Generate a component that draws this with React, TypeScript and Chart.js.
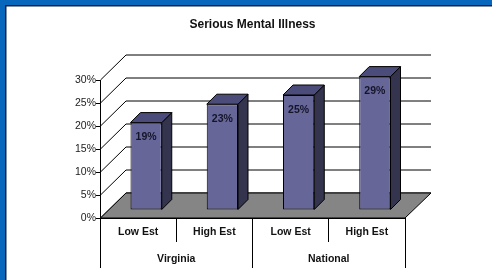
import React, { useEffect, useRef } from "react";
import { Chart, registerables } from "chart.js";

Chart.register(...registerables);

const title = "Serious Mental Illness";
const estimateLabels = ["Low Est", "High Est", "Low Est", "High Est"];
const regionLabels = ["Virginia", "National"];
const values = [19, 23, 25, 29];
const yMax = 30;
const yStep = 5;

const FLOOR_DX = 26;
const FLOOR_DY = 25;
const BAR_SHIFT_X = 8;
const BAR_SHIFT_Y = 8;
const BAR_DEPTH = 10;

const threeD = {
  id: "threeD",
  beforeDraw(chart: any) {
    const { ctx, width, height } = chart;
    ctx.save();
    ctx.fillStyle = "#ffffff";
    ctx.fillRect(0, 0, width, height);
    ctx.fillStyle = "#0767bd";
    ctx.fillRect(0, 0, width, 5);
    ctx.fillRect(0, 0, 5, height);
    ctx.fillStyle = "#0d2440";
    ctx.fillRect(5, 5, width - 5, 1.5);
    ctx.fillRect(5, 5, 1.5, height - 5);
    ctx.restore();
  },
  beforeDatasetsDraw(chart: any) {
    const { ctx, chartArea, scales } = chart;
    const y = scales.y;
    const left = chartArea.left;
    const right = chartArea.right;
    ctx.save();
    ctx.strokeStyle = "#000000";
    ctx.lineWidth = 1;
    for (let v = 0; v <= yMax; v += yStep) {
      const py = y.getPixelForValue(v);
      ctx.beginPath();
      ctx.moveTo(left + 0.5, py);
      ctx.lineTo(left + FLOOR_DX, py - FLOOR_DY);
      ctx.lineTo(right + FLOOR_DX, py - FLOOR_DY);
      ctx.stroke();
    }
    const base = y.getPixelForValue(0);
    ctx.beginPath();
    ctx.moveTo(left + 0.5, base);
    ctx.lineTo(right, base);
    ctx.lineTo(right + FLOOR_DX, base - FLOOR_DY);
    ctx.lineTo(left + FLOOR_DX, base - FLOOR_DY);
    ctx.closePath();
    ctx.fillStyle = "#858585";
    ctx.fill();
    ctx.stroke();
    ctx.restore();
    ctx.save();
    ctx.translate(BAR_SHIFT_X, -BAR_SHIFT_Y);
  },
  afterDatasetsDraw(chart: any) {
    const { ctx } = chart;
    const meta = chart.getDatasetMeta(0);
    ctx.lineWidth = 1;
    ctx.strokeStyle = "#000000";
    meta.data.forEach((bar: any, i: number) => {
      const half = bar.width / 2;
      const l = bar.x - half;
      const r = bar.x + half;
      const t = bar.y;
      const b = bar.base;
      // side face
      ctx.beginPath();
      ctx.moveTo(r, t);
      ctx.lineTo(r + BAR_DEPTH, t - BAR_DEPTH);
      ctx.lineTo(r + BAR_DEPTH, b - BAR_DEPTH);
      ctx.lineTo(r, b);
      ctx.closePath();
      ctx.fillStyle = "#34344f";
      ctx.fill();
      ctx.stroke();
      // top face
      ctx.beginPath();
      ctx.moveTo(l, t);
      ctx.lineTo(r, t);
      ctx.lineTo(r + BAR_DEPTH, t - BAR_DEPTH);
      ctx.lineTo(l + BAR_DEPTH, t - BAR_DEPTH);
      ctx.closePath();
      ctx.fillStyle = "#4c4c7a";
      ctx.fill();
      ctx.stroke();
      // value label
      ctx.fillStyle = "#15152a";
      ctx.font = "bold 10.5px 'Liberation Sans', Arial, sans-serif";
      ctx.textAlign = "center";
      ctx.textBaseline = "middle";
      ctx.fillText(values[i] + "%", bar.x, t + 15);
    });
    ctx.restore();
  },
};

export default function App() {
  const ref = useRef<HTMLCanvasElement>(null);
  useEffect(() => {
    if (!ref.current) return;
    const tickFont = { family: "'Liberation Sans', Arial, sans-serif", size: 10.5 };
    const boldFont = { family: "'Liberation Sans', Arial, sans-serif", size: 10.5, weight: "bold" as const };
    const chart = new Chart(ref.current, {
      type: "bar",
      data: {
        labels: estimateLabels,
        datasets: [
          {
            data: values,
            backgroundColor: "#666699",
            borderColor: "#000000",
            borderWidth: 1,
            borderSkipped: false,
            categoryPercentage: 1,
            barPercentage: 0.41,
            clip: false as any,
            xAxisID: "x",
          },
        ],
      },
      options: {
        responsive: false,
        animation: false,
        events: [],
        layout: { padding: { left: 0, right: 87, top: 0, bottom: 12 } },
        plugins: {
          legend: { display: false },
          tooltip: { enabled: false },
          title: {
            display: true,
            text: title,
            fullSize: false,
            color: "#111111",
            font: { family: "'Liberation Sans', Arial, sans-serif", size: 12, weight: "bold" },
            padding: { top: 17, bottom: 48.6 },
          },
        },
        scales: {
          x: {
            type: "category",
            position: "bottom",
            offset: true,
            grid: { offset: true, drawOnChartArea: false, drawTicks: true, tickLength: 24, color: "#000000" },
            border: { display: true, color: "#000000" },
            ticks: { font: boldFont, color: "#111111", padding: -16, maxRotation: 0, autoSkip: false },
            afterFit: (s: any) => { s.height = 24; },
          },
          x2: {
            type: "category",
            position: "bottom",
            labels: regionLabels,
            offset: true,
            grid: { offset: true, drawOnChartArea: false, drawTicks: true, tickLength: 26, color: "#000000" },
            border: { display: false },
            ticks: { font: boldFont, color: "#111111", padding: -15, maxRotation: 0, autoSkip: false },
            afterFit: (s: any) => { s.height = 26; },
          },
          y: {
            min: 0,
            max: yMax,
            ticks: {
              stepSize: yStep,
              font: tickFont,
              color: "#1a1a1a",
              padding: 0,
              callback: (v: any) => v + "%",
            },
            grid: { drawOnChartArea: false, drawTicks: true, tickLength: 4, color: "#000000" },
            border: { display: true, color: "#000000" },
            afterFit: (s: any) => { s.width = 100; },
          },
        },
      },
      plugins: [threeD],
    });
    return () => chart.destroy();
  }, []);
  return (
    <div style={{ position: "fixed", left: 0, top: 0, width: 492, height: 280 }}>
      <canvas ref={ref} width={492} height={280} style={{ display: "block", width: 492, height: 280 }} />
    </div>
  );
}
